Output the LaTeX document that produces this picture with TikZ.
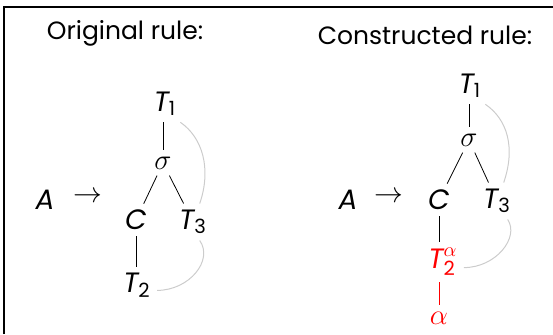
\documentclass[tikz,border=0pt]{standalone}
\usepackage{amsmath}
\usepackage{xcolor}
\usepackage{fontspec}
\setmainfont{Poppins}
\usepackage{tikz}
\usetikzlibrary{positioning}

\tikzset{
  sym/.style={inner sep=3pt},
  title/.style={font=\fontsize{12.5}{15}\selectfont},
  link/.style={gray!40, line width=0.5pt},
}
\newcommand{\mv}[1]{\textit{#1}}

\begin{document}
\begin{tikzpicture}[x=0.5pt, y=-0.5pt, font=\fontsize{14}{16}\selectfont]
\useasboundingbox (0,0) rectangle (553,334);
\draw[line width=0.6pt] (4,334) -- (4,7) -- (553,7);

% original rule
\node[title] (title1) at (125,33) {Original rule:};
\node[sym] (a1) at (45,200) {$\mv{A}$};
\node[sym] (arr1) at (88,197) {$\rightarrow$};
\node[sym] (t1) at (165,104) {$\mv{T}_{\text{1}}$};
\node[sym] (s1) at (163,163) {$\sigma$};
\node[sym] (c1) at (136,220) {$\mv{C}$};
\node[sym] (t3) at (193,222) {$\mv{T}_{\text{3}}$};
\node[sym] (t2) at (137,285) {$\mv{T}_{\text{2}}$};
\draw (t1.south -| s1) -- (s1);
\draw (s1) -- (c1);
\draw (s1) -- (t3);
\draw (c1) -- (t2.north -| c1);
\draw[link] (t1.-50) .. controls +(22,15) and +(12,-35) .. (t3.70);
\draw[link] (t3.-70) .. controls +(14,20) and +(32,0) .. (t2.-15);

% constructed rule
\node[title] (title2) at (425,35) {Constructed rule:};
\node[sym] (a2) at (348,200) {$\mv{A}$};
\node[sym] (arr2) at (389,197) {$\rightarrow$};
\node[sym] (t1r) at (470,86) {$\mv{T}_{\text{1}}$};
\node[sym] (sr) at (469,140) {$\sigma$};
\node[sym] (cr) at (439,200) {$\mv{C}$};
\node[sym] (t3r) at (497,201) {$\mv{T}_{\text{3}}$};
\node[sym, red] (t2r) at (443,262) {$\mv{T}_{\text{2}}^{\alpha}$};
\node[sym, red] (al) at (439,318) {$\alpha$};
\draw (t1r.south -| sr) -- (sr);
\draw (sr) -- (cr);
\draw (sr) -- (t3r);
\draw (cr) -- (t2r.north -| cr);
\draw[red] (t2r.south -| al) -- (al);
\draw[link] (t1r.-50) .. controls +(22,15) and +(12,-35) .. (t3r.70);
\draw[link] (t3r.-60) .. controls +(12,18) and +(32,0) .. (t2r.-15);
\end{tikzpicture}
\end{document}
